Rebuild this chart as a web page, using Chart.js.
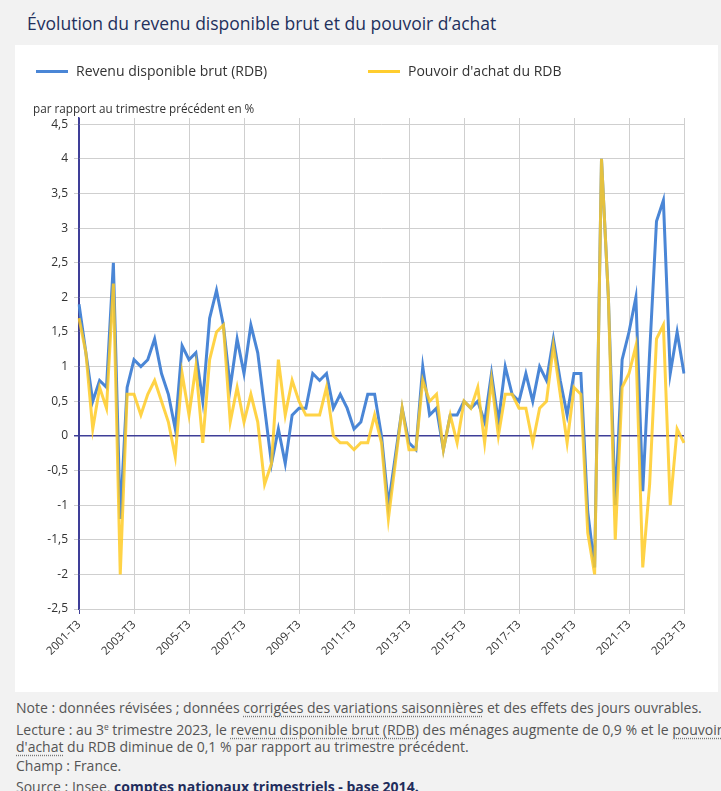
<!DOCTYPE html>
<html lang="fr">
<head>
<meta charset="utf-8">
<script src="https://cdn.jsdelivr.net/npm/chart.js@4.4.0/dist/chart.umd.min.js"></script>
<style>
html, body { margin: 0; padding: 0; background: #f2f2f2; overflow: hidden; font-family: "Open Sans", sans-serif; }
#page { position: relative; width: 721px; height: 791px; }
h1 { position: absolute; left: 27px; top: 10px; margin: 0; font-size: 17.5px; font-weight: 400; line-height: 26px; color: #23305c; white-space: nowrap; }
#card { position: absolute; left: 15px; top: 45px; width: 703px; height: 647px; background: #fff; }
#chartBox { position: absolute; left: 0; top: 0; width: 703px; height: 647px; }
.leg { position: absolute; top: 17px; height: 18px; line-height: 18px; font-size: 14px; color: #333; white-space: nowrap; }
.leg i { position: absolute; top: 8px; width: 32px; height: 3px; }
.ytitle { position: absolute; left: 18px; top: 55px; font-size: 11.7px; line-height: 16px; color: #333; white-space: nowrap; }
.note { position: absolute; left: 16px; font-size: 14px; line-height: 17px; color: #555; white-space: nowrap; }
.dot { text-decoration: underline dotted #777; text-underline-offset: 3px; }
.note sup { font-size: 0.6em; line-height: 0; vertical-align: 0.6em; }
.note b { color: #1f2d5c; }
</style>
</head>
<body>
<div id="page">
  <h1>Évolution du revenu disponible brut et du pouvoir d’achat</h1>
  <div id="card">
    <div id="chartBox"><canvas id="rdbChart"></canvas></div>
    <div class="leg" style="left:21px"><i style="left:0;background:#4a86d6"></i><span style="margin-left:40px">Revenu disponible brut (RDB)</span></div>
    <div class="leg" style="left:353px"><i style="left:0;background:#ffcd2e"></i><span style="margin-left:40px">Pouvoir d'achat du RDB</span></div>
    <div class="ytitle">par rapport au trimestre précédent en %</div>
  </div>
  <div class="note" style="top:699px">Note : données révisées ; données <span class="dot">corrigées des variations saisonnières</span> et des effets des jours ouvrables.</div>
  <div class="note" style="top:721px">Lecture : au 3<sup>e</sup> trimestre 2023, le <span class="dot">revenu disponible brut (RDB)</span> des ménages augmente de 0,9 % et le <span class="dot">pouvoir<br>d'achat</span> du RDB diminue de 0,1 % par rapport au trimestre précédent.</div>
  <div class="note" style="top:757px">Champ : France.</div>
  <div class="note" style="top:778px">Source : Insee, <b>comptes nationaux trimestriels - base 2014.</b></div>
</div>
<script>
// quarterly change, % (2001-T3 .. 2023-T3)
const rdb = [
	1.9, 1.2, 0.5, 0.8, 0.7, 2.5, -1.2, 0.7, 1.1, 1.0, 1.1, 1.4,
	0.9, 0.6, 0.1, 1.3, 1.1, 1.2, 0.5, 1.7, 2.1, 1.6, 0.7, 1.4,
	0.9, 1.6, 1.2, 0.4, -0.4, 0.1, -0.4, 0.3, 0.4, 0.4, 0.9, 0.8,
	0.9, 0.4, 0.6, 0.4, 0.1, 0.2, 0.6, 0.6, 0.0, -1.0, -0.3, 0.4,
	-0.1, -0.2, 1.0, 0.3, 0.4, -0.2, 0.3, 0.3, 0.5, 0.4, 0.5, 0.2,
	0.9, 0.2, 1.0, 0.6, 0.5, 0.9, 0.5, 1.0, 0.8, 1.4, 0.8, 0.3,
	0.9, 0.9, -1.1, -1.9, 4.0, 2.0, -1.0, 1.1, 1.5, 2.0, -0.8, 1.2,
	3.1, 3.4, 0.9, 1.5, 0.9
];
const pouvoirAchat = [
	1.7, 1.2, 0.1, 0.7, 0.4, 2.2, -2.0, 0.6, 0.6, 0.3, 0.6, 0.8,
	0.5, 0.2, -0.3, 0.9, 0.3, 1.0, -0.1, 1.1, 1.5, 1.6, 0.2, 0.7,
	0.2, 0.6, 0.2, -0.7, -0.4, 1.1, 0.3, 0.8, 0.5, 0.3, 0.3, 0.3,
	0.7, 0.0, -0.1, -0.1, -0.2, -0.1, -0.1, 0.3, -0.1, -1.2, -0.4, 0.4,
	-0.2, -0.2, 0.8, 0.5, 0.6, -0.2, 0.3, -0.1, 0.5, 0.4, 0.7, -0.1,
	0.8, 0.0, 0.6, 0.6, 0.4, 0.4, -0.1, 0.4, 0.5, 1.3, 0.6, -0.1,
	0.7, 0.6, -1.4, -2.0, 4.0, 2.0, -1.5, 0.7, 0.9, 1.3, -1.9, -0.7,
	1.4, 1.6, -1.0, 0.1, -0.1
];
const firstYear = 2001;
const firstQuarter = 3;
const labelEvery = 8;
const yMin = -2.5;
const yMax = 4.5;
const yStep = 0.5;

const quarters = [];
for (let k = 0; k < rdb.length; k++) {
	const q = firstQuarter - 1 + k;
	quarters.push(`${firstYear + Math.floor(q / 4)}-T${q % 4 + 1}`);
}

const gridGray = '#cfcfcf';
const axisBlue = '#3f3f98';

function rdbChartConfig() {
	const canvas = document.getElementById('rdbChart');
	if (!canvas) return;
	const ctx = canvas.getContext('2d');

	Chart.defaults.font.family = '"Open Sans", sans-serif';
	Chart.defaults.font.size = 12;
	Chart.defaults.color = '#333';

	new Chart(ctx, {
		type: 'line',
		data: {
			labels: quarters,
			datasets: [
				{
					label: "Pouvoir d'achat du RDB",
					data: pouvoirAchat,
					borderColor: 'rgba(255, 203, 38, 0.85)',
					backgroundColor: 'rgba(255, 203, 38, 0.85)',
					borderWidth: 3,
					pointRadius: 0,
					tension: 0,
					order: 0
				},
				{
					label: 'Revenu disponible brut (RDB)',
					data: rdb,
					borderColor: '#4a86d6',
					backgroundColor: '#4a86d6',
					borderWidth: 3,
					pointRadius: 0,
					tension: 0,
					order: 1
				}
			]
		},
		options: {
			responsive: true,
			maintainAspectRatio: false,
			animation: false,
			devicePixelRatio: 1,
			layout: {
				padding: { top: 73, right: 34, bottom: 0, left: 0 }
			},
			plugins: {
				legend: { display: false },
				tooltip: { enabled: false }
			},
			scales: {
				x: {
					afterFit: scale => { scale.height = 83; },
					grid: {
						color: c => c.index === 0 ? axisBlue : (c.index % labelEvery === 0 ? gridGray : 'transparent'),
						lineWidth: 1,
						tickLength: 5
					},
					border: { color: gridGray },
					ticks: {
						autoSkip: false,
						maxRotation: 45,
						minRotation: 45,
						padding: 4,
						font: { size: 11.5 },
						callback: (val, i) => i % labelEvery === 0 ? quarters[i] : ''
					}
				},
				y: {
					min: yMin,
					max: yMax + 0.09,
					afterFit: scale => { scale.width = 64; },
					grid: {
						color: c => c.tick && c.tick.value === 0 ? axisBlue : gridGray,
						lineWidth: c => c.tick && c.tick.value === 0 ? 1.5 : 1,
						tickLength: 5
					},
					border: { color: axisBlue, width: 1.5 },
					ticks: {
						stepSize: yStep,
						includeBounds: false,
						padding: 6,
						callback: v => String(Math.round(v * 10) / 10).replace('.', ',')
					}
				}
			}
		}
	});
}
document.addEventListener('DOMContentLoaded', rdbChartConfig);
</script>
</body>
</html>
